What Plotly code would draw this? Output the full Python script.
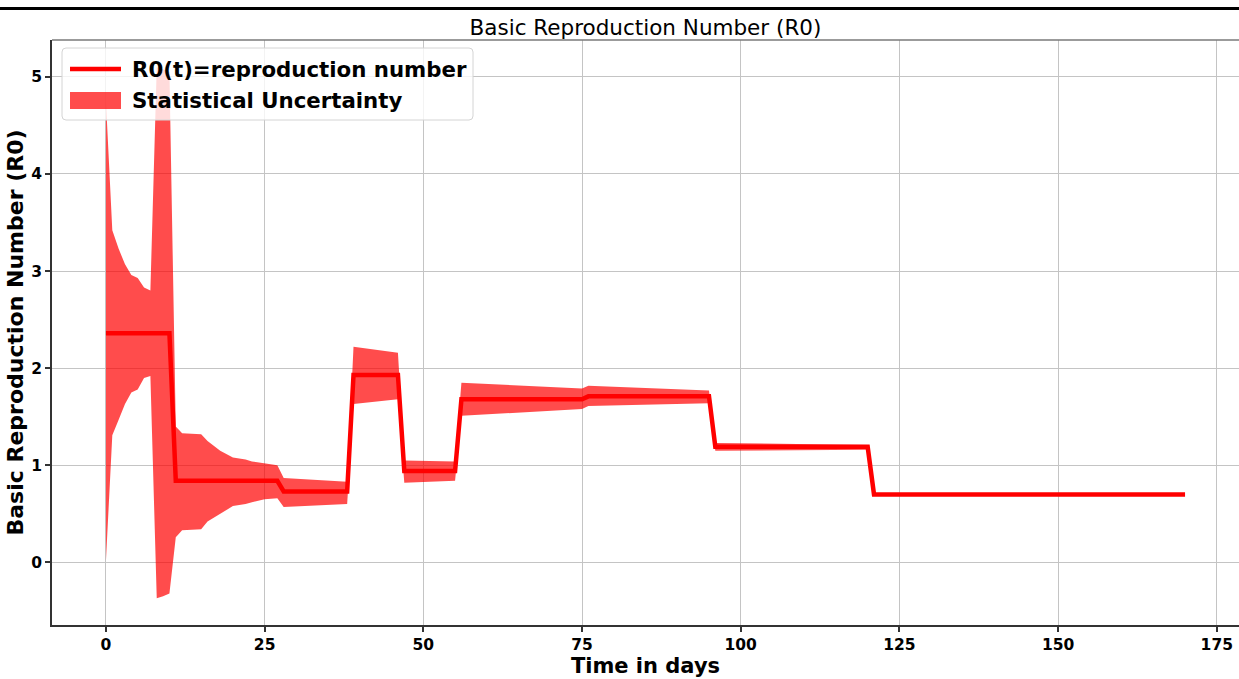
import plotly.graph_objects as go

# R0(t) estimate: piecewise-constant, given at its breakpoints (days)
r0_days = [0, 10, 11, 27, 28, 38, 39, 46, 47, 55, 56, 75, 76, 95, 96, 120, 121, 170]
r0_values = [2.36, 2.36, 0.84, 0.84, 0.73, 0.73, 1.93, 1.93, 0.94, 0.94,
             1.68, 1.68, 1.71, 1.71, 1.19, 1.19, 0.70, 0.70]

# Statistical uncertainty band (lower / upper bound per day)
band_days = [0, 1, 2, 3, 4, 5, 6, 7, 8, 9, 10, 11, 12, 15, 16, 18, 20, 22, 23, 25, 27,
             28, 38, 39, 46, 47, 55, 56, 75, 76, 95, 96, 120, 121, 170]
band_lower = [0.02, 1.31, 1.47, 1.63, 1.75, 1.78, 1.90, 1.92, -0.37, -0.35, -0.32, 0.26, 0.33,
              0.34, 0.42, 0.50, 0.58, 0.60, 0.62, 0.65, 0.66,
              0.57, 0.60, 1.63, 1.68, 0.82, 0.84, 1.51, 1.58, 1.61, 1.64, 1.15, 1.16, 0.70, 0.70]
band_upper = [4.75, 3.42, 3.23, 3.07, 2.96, 2.93, 2.83, 2.80, 5.10, 5.08, 5.05, 1.40, 1.33,
              1.32, 1.25, 1.15, 1.08, 1.06, 1.04, 1.02, 1.00,
              0.87, 0.83, 2.22, 2.16, 1.05, 1.04, 1.85, 1.79, 1.82, 1.77, 1.23, 1.21, 0.70, 0.70]

x_ticks = [0, 25, 50, 75, 100, 125, 150, 175]
y_ticks = [0, 1, 2, 3, 4, 5]

LINE_LABEL = "R0(t)=reproduction number"
BAND_LABEL = "Statistical Uncertainty"
TITLE = "Basic Reproduction Number (R0)"

RED = "#ff0000"
BAND_FILL = "rgba(255,0,0,0.7)"
FONT = "DejaVu Sans"

# page geometry (pixels)
WIDTH, HEIGHT = 1239, 679
L, R, T, B = 52, 1239, 40, 625
PW, PH = R - L, B - T


def px(x):
    return (x - L) / PW


def py(y):
    return (B - y) / PH


fig = go.Figure()

fig.add_trace(go.Scatter(
    x=band_days, y=band_lower, mode="lines", line=dict(width=0),
    hoverinfo="skip", showlegend=False,
))
fig.add_trace(go.Scatter(
    x=band_days, y=band_upper, mode="lines", line=dict(width=0),
    fill="tonexty", fillcolor=BAND_FILL, name=BAND_LABEL, showlegend=False,
))
fig.add_trace(go.Scatter(
    x=r0_days, y=r0_values, mode="lines",
    line=dict(color=RED, width=4.5), name=LINE_LABEL, showlegend=False,
))

axis_common = dict(
    showgrid=True, gridcolor="#c4c4c4", gridwidth=1,
    zeroline=False, showline=True, linecolor="#333333", linewidth=1.5,
    ticks="outside", ticklen=5, tickwidth=1.5, tickcolor="#333333",
    tickfont=dict(family=FONT, size=15.5, color="black", weight="bold"),
)

fig.update_xaxes(
    range=[-8.5, 178.5], tickvals=x_ticks, ticktext=[str(v) for v in x_ticks],
    title=dict(text="Time in days", standoff=1,
               font=dict(family=FONT, size=21, color="black", weight="bold")),
    **axis_common,
)
fig.update_yaxes(
    range=[-0.645, 5.38], tickvals=y_ticks, ticktext=[str(v) for v in y_ticks],
    title=dict(text="Basic Reproduction Number (R0)", standoff=2,
               font=dict(family=FONT, size=22, color="black", weight="bold")),
    **axis_common,
)

shapes = [
    # header rule across the page
    dict(type="line", xref="paper", yref="paper", x0=px(0), x1=px(WIDTH),
         y0=py(8.5), y1=py(8.5), line=dict(color="black", width=3)),
    # top frame edge
    dict(type="line", xref="paper", yref="paper", x0=0, x1=1, y0=1, y1=1,
         line=dict(color="#7a7a7a", width=1.5)),
]

# legend box with rounded corners
lx0, ly0, lx1, ly1, rad = 62, 48, 473, 120, 4
rx, ry = rad / PW, rad / PH
a0, a1, b0, b1 = px(lx0), px(lx1), py(ly1), py(ly0)
legend_path = (
    f"M{a0 + rx},{b1} L{a1 - rx},{b1} Q{a1},{b1} {a1},{b1 - ry} "
    f"L{a1},{b0 + ry} Q{a1},{b0} {a1 - rx},{b0} "
    f"L{a0 + rx},{b0} Q{a0},{b0} {a0},{b0 + ry} "
    f"L{a0},{b1 - ry} Q{a0},{b1} {a0 + rx},{b1} Z"
)
shapes.append(dict(type="path", xref="paper", yref="paper", path=legend_path,
                   fillcolor="rgba(255,255,255,0.8)",
                   line=dict(color="#d4d4d4", width=1), layer="above"))
# legend keys
shapes.append(dict(type="line", xref="paper", yref="paper", x0=px(70), x1=px(121),
                   y0=py(69), y1=py(69), line=dict(color=RED, width=4.5), layer="above"))
shapes.append(dict(type="rect", xref="paper", yref="paper", x0=px(70), x1=px(121),
                   y0=py(109), y1=py(92), fillcolor=BAND_FILL, line=dict(width=0),
                   layer="above"))

annotations = [
    dict(text=LINE_LABEL, xref="paper", yref="paper", x=px(130), y=py(69),
         xanchor="left", yanchor="middle", showarrow=False,
         font=dict(family=FONT, size=21.3, color="black", weight="bold")),
    dict(text=BAND_LABEL, xref="paper", yref="paper", x=px(130), y=py(101),
         xanchor="left", yanchor="middle", showarrow=False,
         font=dict(family=FONT, size=21.3, color="black", weight="bold")),
]

fig.update_layout(
    width=WIDTH, height=HEIGHT, autosize=False,
    margin=dict(l=L, r=WIDTH - R, t=T, b=HEIGHT - B),
    paper_bgcolor="white", plot_bgcolor="white",
    title=dict(text=TITLE, x=0.5, xref="paper", xanchor="center",
               y=1 - 27 / HEIGHT, yref="container", yanchor="middle",
               font=dict(family=FONT, size=21.5, color="black")),
    shapes=shapes, annotations=annotations, showlegend=False,
)

fig.write_html("out.html")
